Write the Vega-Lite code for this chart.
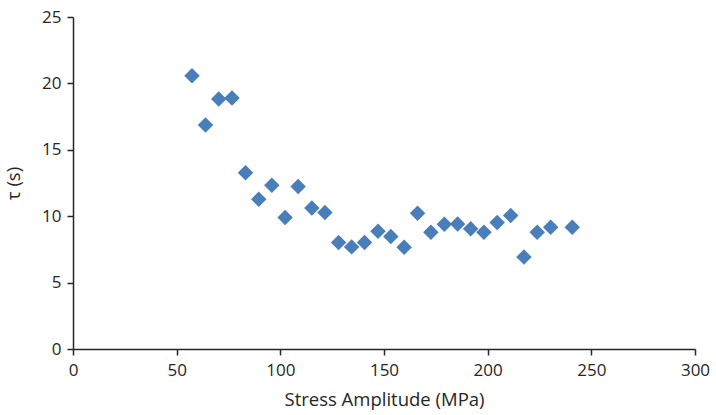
{
  "$schema": "https://vega.github.io/schema/vega-lite/v6.json",
  "width": 622,
  "height": 332,
  "autosize": {"type": "none"},
  "padding": {"left": 73, "top": 17, "right": 21, "bottom": 66},
  "background": "white",
  "config": {
    "view": {"stroke": null},
    "font": "Open Sans",
    "axis": {
      "grid": false,
      "labelFlush": false,
      "domainColor": "#262626",
      "tickColor": "#262626",
      "domainWidth": 1.5,
      "tickWidth": 1.5,
      "tickSize": 6,
      "labelFont": "Open Sans",
      "labelFontSize": 17,
      "labelColor": "#262626",
      "titleFont": "Open Sans",
      "titleFontSize": 18.5,
      "titleFontWeight": "normal",
      "titleColor": "#262626"
    }
  },
  "data": {
    "values": [
      {"stress": 57.4, "tau": 20.57},
      {"stress": 63.9, "tau": 16.86},
      {"stress": 70.3, "tau": 18.82},
      {"stress": 76.7, "tau": 18.9},
      {"stress": 83.2, "tau": 13.28},
      {"stress": 89.6, "tau": 11.28},
      {"stress": 95.9, "tau": 12.33},
      {"stress": 102.3, "tau": 9.9},
      {"stress": 108.6, "tau": 12.23},
      {"stress": 115.2, "tau": 10.62},
      {"stress": 121.5, "tau": 10.27},
      {"stress": 128.1, "tau": 8.02},
      {"stress": 134.4, "tau": 7.69},
      {"stress": 140.6, "tau": 8.02},
      {"stress": 147.1, "tau": 8.87},
      {"stress": 153.3, "tau": 8.47},
      {"stress": 159.7, "tau": 7.67},
      {"stress": 166.2, "tau": 10.23},
      {"stress": 172.6, "tau": 8.8},
      {"stress": 179.1, "tau": 9.4},
      {"stress": 185.5, "tau": 9.42},
      {"stress": 191.8, "tau": 9.05},
      {"stress": 198.2, "tau": 8.8},
      {"stress": 204.6, "tau": 9.52},
      {"stress": 211.1, "tau": 10.05},
      {"stress": 217.5, "tau": 6.92},
      {"stress": 223.9, "tau": 8.8},
      {"stress": 230.4, "tau": 9.17},
      {"stress": 240.8, "tau": 9.17}
    ]
  },
  "mark": {"type": "point", "shape": "diamond", "filled": true, "size": 240, "color": "#4a7ebb", "opacity": 1},
  "encoding": {
    "x": {
      "field": "stress",
      "type": "quantitative",
      "scale": {"domain": [0, 300], "nice": false, "zero": true},
      "axis": {"values": [0, 50, 100, 150, 200, 250, 300], "title": "Stress Amplitude (MPa)", "labelPadding": 7, "titlePadding": 12}
    },
    "y": {
      "field": "tau",
      "type": "quantitative",
      "scale": {"domain": [0, 25], "nice": false},
      "axis": {"values": [0, 5, 10, 15, 20, 25], "title": "τ (s)", "labelPadding": 6, "titlePadding": 18}
    }
  }
}
